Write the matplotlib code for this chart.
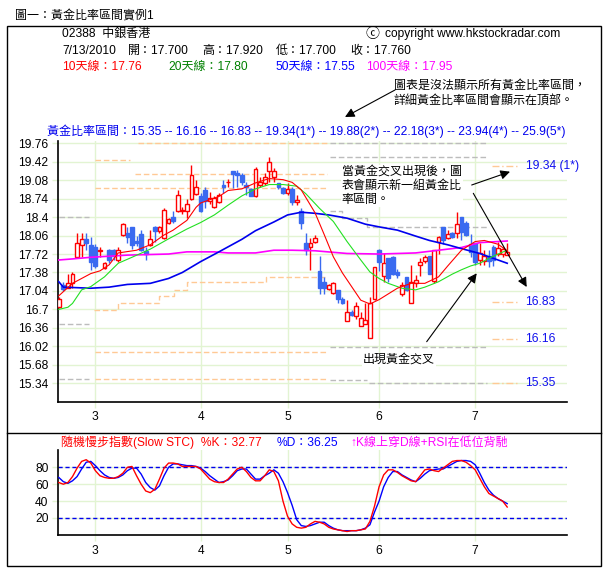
import matplotlib
matplotlib.use('Agg')
import matplotlib.pyplot as plt
from matplotlib.patches import Rectangle
from matplotlib.lines import Line2D

plt.rcParams['font.family'] = ['Liberation Sans', 'Noto Sans CJK TC', 'DejaVu Sans']

# ---------------- data ----------------
opens = [16.74,17.15,17.10,17.19,17.67,17.89,17.99,17.88,17.85,17.78,
         17.46,17.80,17.79,17.61,18.07,18.11,18.21,17.96,18.09,17.78,
         17.89,18.21,18.15,18.01,18.30,18.41,18.52,18.52,18.52,18.74,
         18.82,18.79,18.90,18.70,18.59,18.68,18.99,19.04,19.25,19.22,
         19.17,18.99,18.91,18.79,18.99,19.02,19.25,19.14,19.02,18.93,
         18.84,18.91,18.68,18.52,17.92,17.85,17.95,17.41,17.20,17.07,
         17.01,17.06,16.90,16.49,16.66,16.57,16.40,16.44,16.17,16.90,
         17.80,17.31,17.64,17.66,17.39,16.98,17.29,16.81,17.19,17.52,
         17.60,17.68,17.22,17.95,18.21,18.01,18.11,18.10,18.41,18.30,
         17.90,17.92,17.61,17.60,17.68,17.85,17.72,17.72,17.70]
highs = [16.92,17.21,17.36,17.38,18.10,18.10,18.10,18.03,17.91,17.85,
         17.58,17.82,17.82,17.85,18.30,18.21,18.21,18.05,18.16,17.85,
         18.16,18.23,18.23,18.56,18.38,18.52,18.90,18.58,18.74,19.36,
         19.09,18.84,18.95,18.87,18.79,18.84,19.09,19.11,19.25,19.27,
         19.21,19.05,18.93,19.32,19.13,19.21,19.51,19.30,19.02,18.96,
         19.02,18.95,18.80,18.56,18.10,18.01,18.07,17.68,17.30,17.17,
         17.21,17.06,16.93,16.88,16.69,16.84,16.66,16.81,16.93,17.49,
         17.82,17.73,17.64,17.68,17.45,17.21,17.30,17.52,17.33,17.64,
         17.70,17.69,17.80,18.06,18.21,18.16,18.13,18.50,18.41,18.32,
         18.09,17.93,17.92,17.79,17.79,17.88,17.95,17.85,17.92]
lows = [16.73,17.03,17.09,17.10,17.66,17.67,17.79,17.42,17.47,17.67,
        17.44,17.56,17.61,17.58,18.05,17.92,17.82,17.86,17.78,17.61,
        17.86,17.95,18.10,17.99,18.28,18.30,18.50,18.45,18.38,18.71,
        18.81,18.50,18.56,18.65,18.57,18.66,18.84,18.96,18.93,18.96,
        18.99,18.81,18.78,18.77,18.96,18.99,19.05,19.05,18.91,18.83,
        18.81,18.62,18.62,18.19,17.70,17.43,17.92,16.98,16.98,17.05,
        16.99,16.82,16.80,16.49,16.58,16.53,16.40,16.44,16.17,16.88,
        17.40,17.21,17.21,17.33,17.27,16.95,17.03,16.81,17.12,17.32,
        17.55,17.35,17.19,17.72,17.90,18.00,18.02,18.01,17.98,18.05,
        17.67,17.52,17.52,17.52,17.49,17.50,17.68,17.67,17.70]
closes = [16.90,17.07,17.18,17.35,17.92,17.99,17.93,17.58,17.50,17.80,
          17.55,17.61,17.68,17.79,18.27,18.03,17.89,17.93,17.79,17.72,
          17.99,18.15,18.22,18.53,18.36,18.32,18.81,18.54,18.65,19.17,
          18.95,18.52,18.70,18.76,18.76,18.81,18.96,19.05,19.19,19.17,
          19.05,18.95,18.79,19.29,19.05,19.13,19.42,19.25,18.96,18.84,
          18.91,18.68,18.71,18.29,17.79,17.92,18.01,17.10,17.10,17.15,
          17.19,16.89,16.82,16.66,16.60,16.76,16.55,16.50,16.81,17.49,
          17.58,17.55,17.27,17.35,17.33,17.15,17.06,17.21,17.24,17.58,
          17.67,17.36,17.79,18.03,17.97,18.09,18.03,18.27,18.13,18.07,
          17.76,17.58,17.73,17.68,17.60,17.61,17.84,17.81,17.76]
days = list(range(len(closes)))

ma10_day = [0,3,7,9,11,13,17,20,23,25,28,30,31,35,37,40,43,46,49,51,53,56,58,60,62,64,66,68,70,74,77,80,83,85,88,91,93,96,98]
ma10_val = [16.95,17.18,17.36,17.41,17.52,17.74,17.79,17.89,18.07,18.16,18.34,18.58,18.66,18.78,18.89,18.92,19.03,19.11,19.09,19.04,18.90,18.48,18.08,17.67,17.37,17.12,16.87,16.80,16.88,17.09,17.18,17.18,17.30,17.50,17.79,17.95,17.97,17.90,17.78]
ma20_day = [0,2,3,5,7,10,13,16,20,24,28,31,34,37,40,43,46,49,52,54,57,60,63,66,68,70,72,75,78,80,83,86,88,90,92,94,96,98]
ma20_val = [16.70,16.74,16.81,17.06,17.12,17.30,17.55,17.66,17.81,18.00,18.18,18.30,18.44,18.62,18.79,18.92,19.00,19.00,18.97,18.83,18.56,18.32,17.95,17.61,17.39,17.27,17.18,17.09,17.06,17.11,17.21,17.35,17.43,17.50,17.55,17.64,17.72,17.79]
ma50_day = [0,1,7,11,15,20,24,27,31,35,40,43,47,50,53,56,59,63,67,70,74,78,81,85,88,92,95,98]
ma50_val = [17.21,17.11,17.09,17.11,17.16,17.18,17.27,17.38,17.58,17.76,17.99,18.15,18.31,18.44,18.49,18.47,18.44,18.38,18.27,18.22,18.16,18.05,17.97,17.89,17.82,17.73,17.64,17.55]
ma100_day = [0,3,7,11,15,24,28,34,37,43,47,51,56,63,70,78,83,88,92,96,98]
ma100_val = [17.61,17.63,17.66,17.68,17.70,17.72,17.76,17.76,17.74,17.74,17.79,17.79,17.78,17.73,17.72,17.74,17.79,17.84,17.93,17.95,17.96]

stoch_k = [62,60,62,69,79,87,89,85,76,70, 68,67,67,69,73,80,81,70,60,52,
           50,54,66,79,85,85,84,81,81,81, 81,78,72,66,63,62,62,66,72,78,
           80,75,68,64,64,70,77,75,64,40, 22,13,9,8,9,13,16,15,13,9,
           7,6,5,4,5,5,6,7,16,34, 57,71,77,77,74,70,67,64,63,70,
           77,78,76,75,79,83,87,88,88,86, 82,77,67,57,49,46,43,40,33]
stoch_d = [68,63,61,64,69,78,86,87,82,76, 71,68,67,68,71,76,79,79,72,62,
           56,53,58,70,80,84,84,83,82,82, 81,79,75,70,66,62,63,65,70,76,
           78,78,72,66,66,70,73,77,73,63, 50,35,18,11,10,11,13,15,15,11,
           8,6,5,5,5,5,6,8,12,27, 40,57,68,75,75,71,68,65,63,67,
           72,76,77,78,78,81,84,87,88,88, 87,83,73,62,53,47,43,40,37]

month_days = [8, 31, 50, 70, 91]
month_labels = ['3', '4', '5', '6', '7']
price_ticks = [19.76, 19.42, 19.08, 18.74, 18.4, 18.06, 17.72, 17.38, 17.04, 16.7, 16.36, 16.02, 15.68, 15.34]
stoch_ticks = [20, 40, 60, 80]

# golden-ratio zone guide lines
gray1_levels = [18.40, 16.44, 15.41]
gray1_span = [0.0, 6.5]
orange_levels = [19.77, 19.46, 19.20, 18.94, 15.91, 15.41]
orange_starts = [17.4, 8.0, 16.7, 8.0, 8.0, 8.0]
orange_ends = [58.7, 15.6, 58.7, 58.7, 58.7, 58.7]
orange_stair_days = [7.8, 13.0, 22.0, 25.2, 28.0, 45.2, 58.7]
orange_stair_levels = [16.69, 16.81, 16.95, 17.06, 17.21, 17.29, 17.29]
gray3_levels = [19.76, 19.50, 16.01, 15.40, 15.34]
gray3_starts = [59.3, 59.3, 59.3, 59.3, 67.9]
gray3_ends = [93.6, 93.6, 93.6, 67.4, 93.6]
gray_stair_days = [59.3, 62.0, 67.4, 93.6]
gray_stair_levels = [18.52, 18.38, 18.22, 18.22]
right_levels = [19.34, 16.83, 16.16, 15.35]
right_labels = ['19.34 (1*)', '16.83', '16.16', '15.35']

# ---------------- figure ----------------
W, H = 609, 575
fig = plt.figure(figsize=(W / 100, H / 100), dpi=100)
fig.patch.set_facecolor('white')

def fx(x):
    return x / W

def fy(y):
    return 1 - y / H

FS = 8.64
GRID = '#e2f4d2'
ORANGE = '#ffc995'
GRAY = '#bcbcbc'
BLUEC = '#3a6af0'

# border and separator
fig.add_artist(Rectangle((fx(7), fy(566)), fx(601) - fx(7), fy(25.7) - fy(566),
                         transform=fig.transFigure, fill=False, ec='black', lw=1))
fig.add_artist(Line2D([fx(7), fx(601)], [fy(433), fy(433)], transform=fig.transFigure,
                      color='black', lw=1))

# ---------- main axes ----------
ax = fig.add_axes([fx(58.3), fy(401.7), fx(566.7) - fx(58.3), fy(141.1) - fy(401.7)])
ax.set_xlim(-0.1, 111)
ax.set_ylim(15.0, 19.8)
for s in ['top', 'right']:
    ax.spines[s].set_visible(False)
for s in ['left', 'bottom']:
    ax.spines[s].set_linewidth(1.2)
ax.set_yticks(price_ticks)
ax.set_yticklabels([f'{v:g}' for v in price_ticks])
ax.set_xticks(month_days)
ax.set_xticklabels(month_labels)
ax.tick_params(axis='both', length=4, width=1, color=GRID, labelsize=FS, pad=3)
ax.grid(True, color=GRID, lw=1)
ax.set_axisbelow(True)

# guide lines
dash = (0, (4, 2))
for lv in gray1_levels:
    ax.plot(gray1_span, [lv, lv], color=GRAY, lw=1, ls=dash, zorder=1)
for lv, s0, s1 in zip(orange_levels, orange_starts, orange_ends):
    ax.plot([s0, s1], [lv, lv], color=ORANGE, lw=1, ls=dash, zorder=1)
ax.step(orange_stair_days, orange_stair_levels, where='post', color=ORANGE, lw=1, ls=dash, zorder=1)
for lv, s0, s1 in zip(gray3_levels, gray3_starts, gray3_ends):
    ax.plot([s0, s1], [lv, lv], color=GRAY, lw=1, ls=dash, zorder=1)
ax.step(gray_stair_days, gray_stair_levels, where='post', color=GRAY, lw=1, ls=dash, zorder=1)
for lv, lab in zip(right_levels, right_labels):
    ax.plot([94.7, 100.6], [lv, lv], color=ORANGE, lw=1, ls=(0, (5, 2, 1, 2)), zorder=1)
    ax.text(102.0, lv, lab, color='#1010ee', fontsize=FS, va='center', ha='left')

# candles
up = [c >= o for o, c in zip(opens, closes)]
wick_col = ['red' if u else BLUEC for u in up]
ax.vlines(days, lows, highs, colors=wick_col, lw=1, zorder=3)
bottoms = [min(o, c) for o, c in zip(opens, closes)]
heights = [max(abs(c - o), 0.012) for o, c in zip(opens, closes)]
faces = ['white' if u else BLUEC for u in up]
ax.bar(days, heights, bottom=bottoms, width=0.82, color=faces, edgecolor=wick_col,
       linewidth=1.0, zorder=4)

# moving averages
ax.plot(ma100_day, ma100_val, color='#ff00ff', lw=1.2, zorder=5)
ax.plot(ma50_day, ma50_val, color='#0000ee', lw=1.2, zorder=5)
ax.plot(ma20_day, ma20_val, color='#22e022', lw=0.8, zorder=5)
ax.plot(ma10_day, ma10_val, color='#ff0000', lw=0.8, zorder=5)

# ---------- stochastic axes ----------
ax2 = fig.add_axes([fx(58.3), fy(534.9), fx(566.7) - fx(58.3), fy(450.4) - fy(534.9)])
ax2.set_xlim(-0.1, 111)
ax2.set_ylim(0, 100)
for s in ['top', 'right']:
    ax2.spines[s].set_visible(False)
for s in ['left', 'bottom']:
    ax2.spines[s].set_linewidth(1.2)
ax2.set_yticks(stoch_ticks)
ax2.set_xticks(month_days)
ax2.set_xticklabels(month_labels)
ax2.tick_params(axis='both', length=4, width=1, color=GRID, labelsize=FS, pad=3)
ax2.grid(True, color=GRID, lw=1)
ax2.set_axisbelow(True)
for lv in [20, 80]:
    ax2.axhline(lv, color='#0000ee', lw=1, ls=(0, (3, 2)), zorder=2)
ax2.plot(days, stoch_d, color='#0000ff', lw=1, zorder=3)
ax2.plot(days, stoch_k, color='#ff0000', lw=1, zorder=4)

# ---------- texts ----------
def ftext(x, y, s, color='black', **kw):
    fig.text(fx(x), fy(y), s, color=color, fontsize=kw.pop('fontsize', FS), va='center', ha='left', **kw)

ftext(15.5, 16, '圖一：黃金比率區間實例1')
ftext(62, 34.3, '02388  中銀香港')
ftext(366, 34.3, 'ⓒ', fontsize=10)
ftext(385, 34.3, 'copyright www.hkstockradar.com')
ftext(62, 50.7, '7/13/2010')
ftext(128, 50.7, '開：17.700')
ftext(202, 50.7, '高：17.920')
ftext(276, 50.7, '低：17.700')
ftext(350, 50.7, '收：17.760')
ftext(62, 66.7, '10天線：17.76', color='#ff0000')
ftext(168, 66.7, '20天線：17.80', color='#008000')
ftext(276, 66.7, '50天線：17.55', color='#0000ff')
ftext(366, 66.7, '100天線：17.95', color='#ff00ff')
ftext(394, 86, '圖表是沒法顯示所有黃金比率區間，')
ftext(394, 100.5, '詳細黃金比率區間會顯示在頂部。')
ftext(47, 131.7, '黃金比率區間：15.35 -- 16.16 -- 16.83 -- 19.34(1*) -- 19.88(2*) -- 22.18(3*) -- 23.94(4*) -- 25.9(5*)',
      color='#0000ee')

ftext(61, 442.7, '隨機慢步指數(Slow STC)  %K：32.77', color='#ff0000')
ftext(276.5, 442.7, '%D：36.25', color='#0000ff')
ftext(350, 442.7, '↑K線上穿D線+RSI在低位背馳', color='#ff00ff')

bbox = dict(facecolor='white', edgecolor='none', pad=0.6)
fig.text(fx(341.7), fy(186), '當黃金交叉出現後，圖\n表會顯示新一組黃金比\n率區間。', fontsize=FS,
         va='center', ha='left', linespacing=1.25, bbox=bbox, zorder=6)
fig.text(fx(363), fy(360), '出現黃金交叉', fontsize=FS, va='center', ha='left', bbox=bbox, zorder=6)

def arrow(x1, y1, x2, y2):
    ax.annotate('', xy=(x2, H - y2), xytext=(x1, H - y1), xycoords='figure pixels',
                textcoords='figure pixels', annotation_clip=False,
                arrowprops=dict(arrowstyle='-|>', color='black', lw=0.8,
                                mutation_scale=14, shrinkA=0, shrinkB=0), zorder=7)

arrow(395, 90, 345, 117)
arrow(471.7, 185, 510, 171.7)
arrow(473.3, 193.3, 526.7, 287)
arrow(426.7, 341.7, 476.7, 273.3)

fig.savefig('out.png', dpi=100, facecolor='white')
